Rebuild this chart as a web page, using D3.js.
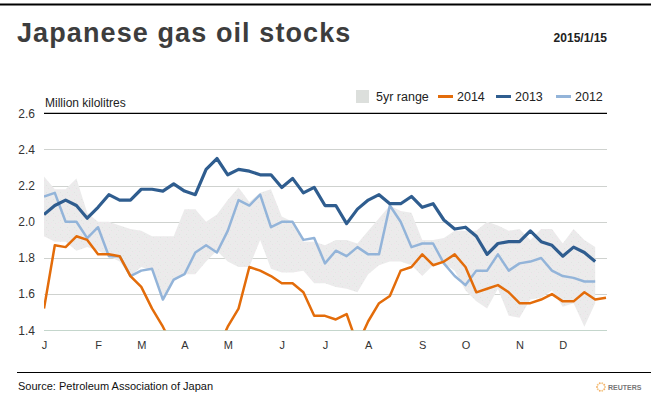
<!DOCTYPE html>
<html>
<head>
<meta charset="utf-8">
<script src="https://cdnjs.cloudflare.com/ajax/libs/d3/7.8.5/d3.min.js"></script>
<style>
  body { margin: 0; background: #fff; }
  svg { display: block; font-family: "Liberation Sans", Arial, sans-serif; }
  .axis path { display: none; }
  .axis text { fill: #333; font-size: 11px; }
  .grid { stroke-width: 1; shape-rendering: crispEdges; }
</style>
</head>
<body>
<div id="chart"></div>
<script>
// weekly stocks, million kilolitres
var y2014 = [1.52, 1.87, 1.86, 1.92, 1.90, 1.82, 1.82, 1.81, 1.70, 1.64, 1.52, 1.42, 1.30, 1.27, 1.26, 1.27, 1.29,
  1.42, 1.52, 1.75, 1.73, 1.70, 1.66, 1.66, 1.61, 1.48, 1.48, 1.46, 1.49, 1.32, 1.45, 1.55, 1.59, 1.73, 1.75,
  1.82, 1.76, 1.78, 1.82, 1.75, 1.61, 1.63, 1.65, 1.61, 1.55, 1.55, 1.57, 1.60, 1.56, 1.56, 1.61, 1.57, 1.58];
var y2013 = [2.04, 2.09, 2.12, 2.09, 2.02, 2.08, 2.15, 2.12, 2.12, 2.18, 2.18, 2.17, 2.21, 2.17, 2.15, 2.29, 2.35,
  2.26, 2.29, 2.28, 2.26, 2.26, 2.19, 2.24, 2.16, 2.19, 2.09, 2.09, 1.99, 2.07, 2.12, 2.15, 2.10, 2.10, 2.14,
  2.08, 2.10, 2.01, 1.96, 1.97, 1.92, 1.82, 1.88, 1.89, 1.89, 1.95, 1.89, 1.87, 1.81, 1.86, 1.83, 1.78];
var y2012 = [2.14, 2.16, 2.00, 2.00, 1.91, 1.97, 1.81, 1.81, 1.70, 1.73, 1.74, 1.57, 1.68, 1.71, 1.83, 1.87, 1.83,
  1.95, 2.12, 2.09, 2.15, 1.97, 2.00, 2.00, 1.90, 1.91, 1.77, 1.84, 1.81, 1.86, 1.82, 1.82, 2.09, 2.00, 1.86,
  1.88, 1.88, 1.77, 1.70, 1.65, 1.73, 1.73, 1.82, 1.73, 1.77, 1.78, 1.80, 1.73, 1.70, 1.69, 1.67, 1.67];
var rangeHigh = [2.25, 2.18, 2.18, 2.24, 2.05, 2.00, 2.00, 1.98, 1.96, 1.95, 1.92, 1.92, 1.92, 2.07, 2.07, 2.00, 2.04,
  2.12, 2.19, 2.11, 2.16, 2.18, 2.03, 2.00, 1.89, 1.89, 1.87, 1.90, 1.90, 1.88, 1.95, 2.02, 2.09, 2.06, 2.05,
  1.90, 1.90, 1.91, 1.95, 1.95, 1.95, 2.00, 1.98, 1.95, 1.96, 1.90, 1.96, 1.96, 1.88, 1.96, 1.90, 1.86];
var rangeLow = [1.92, 1.89, 1.89, 1.84, 1.86, 1.84, 1.81, 1.78, 1.70, 1.75, 1.73, 1.57, 1.67, 1.71, 1.71, 1.78, 1.84,
  1.78, 1.75, 1.75, 1.90, 1.74, 1.72, 1.72, 1.73, 1.66, 1.66, 1.64, 1.63, 1.61, 1.71, 1.76, 1.78, 1.78, 1.76,
  1.70, 1.76, 1.77, 1.73, 1.62, 1.56, 1.52, 1.63, 1.48, 1.47, 1.57, 1.58, 1.62, 1.53, 1.55, 1.42, 1.55];

var monthWeeks = [0, 5, 9, 13, 17, 22, 26, 30, 35, 39, 44, 48];
var monthLabels = ["J", "F", "M", "A", "M", "J", "J", "A", "S", "O", "N", "D"];
var yTicks = [1.4, 1.6, 1.8, 2.0, 2.2, 2.4, 2.6];

var width = 651, height = 410;
var plotLeft = 44, plotRight = 607, plotTop = 113.3, plotBottom = 330.3;

var svg = d3.select("#chart").append("svg").attr("width", width).attr("height", height);

var x = d3.scaleLinear().domain([0, 52]).range([plotLeft, 606]);
var y = d3.scaleLinear().domain([1.4, 2.6]).range([plotBottom, plotTop]);

// speckled fill for the range band
var defs = svg.append("defs");
var pat = defs.append("pattern").attr("id", "speckle").attr("width", 7).attr("height", 7)
  .attr("patternUnits", "userSpaceOnUse");
pat.append("rect").attr("width", 7).attr("height", 7).attr("fill", "#ebebeb");
[[1, 1, "#f2e3ec"], [4, 3, "#e2e2e2"], [2, 5, "#f0e2ea"], [6, 6, "#e4e4e4"], [5, 0, "#f3e6ee"]].forEach(function (p) {
  pat.append("rect").attr("x", p[0]).attr("y", p[1]).attr("width", 1).attr("height", 1).attr("fill", p[2]);
});
defs.append("clipPath").attr("id", "plot").append("rect")
  .attr("x", plotLeft).attr("y", plotTop).attr("width", plotRight - plotLeft).attr("height", plotBottom - plotTop);

// header
svg.append("line").attr("x1", 0).attr("x2", width).attr("y1", 4.5).attr("y2", 4.5)
  .attr("stroke", "#000").attr("stroke-width", 2);
svg.append("text").attr("x", 17).attr("y", 42).attr("fill", "#3d3d3d")
  .style("font-size", "27px").style("font-weight", "bold").style("letter-spacing", "1.1px")
  .text("Japanese gas oil stocks");
svg.append("text").attr("x", 607).attr("y", 42).attr("text-anchor", "end").attr("fill", "#222")
  .style("font-size", "12px").style("font-weight", "bold").text("2015/1/15");

// gridlines
svg.selectAll(".grid").data(yTicks.slice(0, -1)).enter().append("line")
  .attr("class", "grid")
  .attr("x1", plotLeft).attr("x2", plotRight)
  .attr("y1", function (d) { return Math.round(y(d)) + 0.5; })
  .attr("y2", function (d) { return Math.round(y(d)) + 0.5; })
  .attr("stroke", function (d) { return d === 1.4 ? "#c4d6cc" : "#cfd2cf"; });

var yAxis = d3.axisLeft(y).tickValues(yTicks).tickSize(0).tickPadding(0).tickFormat(d3.format(".1f"));
svg.append("g").attr("class", "axis").attr("transform", "translate(35,0)").call(yAxis)
  .selectAll("text").style("font-size", "12px");

var xAxis = d3.axisBottom(x).tickValues(monthWeeks).tickSize(0).tickPadding(11)
  .tickFormat(function (d, i) { return monthLabels[i]; });
svg.append("g").attr("class", "axis").attr("transform", "translate(0," + plotBottom + ")").call(xAxis);

var plot = svg.append("g").attr("clip-path", "url(#plot)");

var area = d3.area()
  .x(function (d, i) { return x(i); })
  .y0(function (d, i) { return y(rangeLow[i]); })
  .y1(function (d) { return y(d); });
plot.append("path").datum(rangeHigh).attr("d", area).attr("fill", "url(#speckle)");

var line = d3.line().x(function (d, i) { return x(i); }).y(function (d) { return y(d); });
var series = [
  { values: y2012, color: "#93b4d9", w: 2.5 },
  { values: y2014, color: "#e36c0a", w: 2.5 },
  { values: y2013, color: "#2f5d8f", w: 3.2 }
];
series.forEach(function (s) {
  plot.append("path").datum(s.values).attr("d", line).attr("fill", "none")
    .attr("stroke", s.color).attr("stroke-width", s.w).attr("stroke-linejoin", "round");
});

// top rule and unit label
svg.append("line").attr("x1", plotLeft).attr("x2", plotRight).attr("y1", y(2.6)).attr("y2", y(2.6))
  .attr("stroke", "#000").attr("stroke-width", 1.2);
svg.append("text").attr("x", 45).attr("y", 107).attr("fill", "#222").style("font-size", "12px")
  .text("Million kilolitres");

// legend
var legend = svg.append("g").style("font-size", "12.5px").attr("fill", "#222");
legend.append("rect").attr("x", 356).attr("y", 90).attr("width", 13).attr("height", 13).attr("fill", "#dcdfdc");
legend.append("text").attr("x", 376).attr("y", 101).text("5yr range");
var legendLines = [
  { label: "2014", color: "#e36c0a", x: 438 },
  { label: "2013", color: "#2f5d8f", x: 496 },
  { label: "2012", color: "#93b4d9", x: 556 }
];
legendLines.forEach(function (l) {
  legend.append("line").attr("x1", l.x).attr("x2", l.x + 15).attr("y1", 96.5).attr("y2", 96.5)
    .attr("stroke", l.color).attr("stroke-width", 3);
  legend.append("text").attr("x", l.x + 19).attr("y", 101).text(l.label);
});

// footer
svg.append("line").attr("x1", 17).attr("x2", width).attr("y1", 372.5).attr("y2", 372.5)
  .attr("stroke", "#000").attr("stroke-width", 1);
svg.append("text").attr("x", 18).attr("y", 390).attr("fill", "#111").style("font-size", "11px")
  .text("Source: Petroleum Association of Japan");

var logo = svg.append("g").attr("transform", "translate(601,387)");
d3.range(10).forEach(function (k) {
  var a = k / 10 * Math.PI * 2;
  logo.append("circle").attr("cx", Math.cos(a) * 4).attr("cy", Math.sin(a) * 4).attr("r", 1)
    .attr("fill", k % 2 ? "#f6b26b" : "#f3c98b");
});
logo.append("text").attr("x", 7).attr("y", 2.5).attr("fill", "#777").style("font-size", "7px")
  .style("font-weight", "bold").text("REUTERS");
</script>
</body>
</html>
